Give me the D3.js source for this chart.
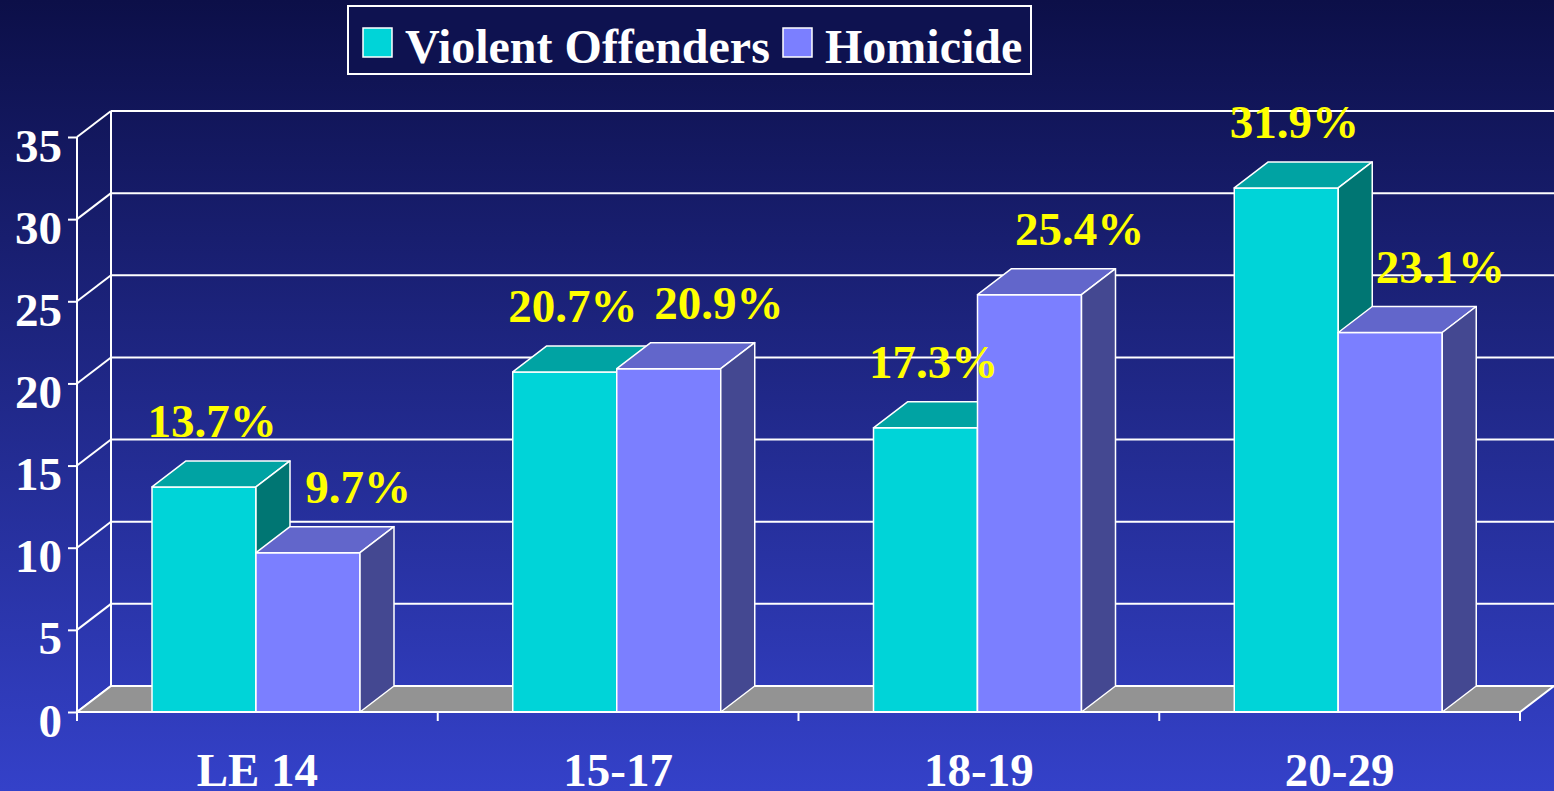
<!DOCTYPE html>
<html>
<head>
<meta charset="utf-8">
<script src="https://cdn.jsdelivr.net/npm/d3@7"></script>
<style>
  html, body { margin: 0; padding: 0; overflow: hidden; }
  svg { display: block; }
</style>
</head>
<body>
<svg class="entry-point"></svg>
<script>
/* data */
const categories = ['LE 14', '15-17', '18-19', '20-29']
const seriesNames = ['Violent Offenders', 'Homicide']
const violent = [13.7, 20.7, 17.3, 31.9]
const homicide = [9.7, 20.9, 25.4, 23.1]
const yTicks = [0, 5, 10, 15, 20, 25, 30, 35]

const W = 1554, H = 791
const DX = 34, DY = -26 // depth of the 3d box
const font = '"Liberation Serif", "Times New Roman", serif'

const colors = [
  { front: '#00d4d8', top: '#00a3a3', side: '#007673' },
  { front: '#7b7fff', top: '#6266cb', side: '#444891' }
]

const svg = d3.select('.entry-point')
  .attr('width', W)
  .attr('height', H)

/* background */
const defs = svg.append('defs')
const grad = defs.append('linearGradient')
  .attr('id', 'bg').attr('x1', 0).attr('y1', 0).attr('x2', 0).attr('y2', 1)
grad.append('stop').attr('offset', '0%').attr('stop-color', '#0c0f48')
grad.append('stop').attr('offset', '100%').attr('stop-color', '#3441c9')
svg.append('rect').attr('width', W).attr('height', H).attr('fill', 'url(#bg)')

/* scales */
const x0 = d3.scaleBand().domain(categories).range([77, 1520])
const x1 = d3.scaleBand().domain(seriesNames).range([75, 283])
const y = d3.scaleLinear().domain([0, 35]).range([712, 137])

const g = svg.append('g')

/* back wall gridlines */
g.selectAll('.grid')
  .data(yTicks).enter().append('line')
  .attr('x1', x0.range()[0] + DX).attr('x2', W)
  .attr('y1', d => y(d) + DY).attr('y2', d => y(d) + DY)
  .attr('stroke', '#fff').attr('stroke-width', 2)

// back wall left edge
g.append('line')
  .attr('x1', x0.range()[0] + DX).attr('x2', x0.range()[0] + DX)
  .attr('y1', y(35) + DY).attr('y2', y(0) + DY)
  .attr('stroke', '#fff').attr('stroke-width', 2)

// side wall diagonals
g.selectAll('.diag')
  .data(yTicks).enter().append('line')
  .attr('x1', x0.range()[0]).attr('x2', x0.range()[0] + DX)
  .attr('y1', d => y(d)).attr('y2', d => y(d) + DY)
  .attr('stroke', '#fff').attr('stroke-width', 2)

/* floor */
const fx0 = x0.range()[0], fx1 = x0.range()[1]
g.append('polygon')
  .attr('points', [[fx0, y(0)], [fx0 + DX, y(0) + DY], [fx1 + DX, y(0) + DY], [fx1, y(0)]].join(' '))
  .attr('fill', '#939393').attr('stroke', '#fff').attr('stroke-width', 2)

/* bars */
const rows = []
categories.forEach((c, i) => {
  rows.push({ cat: c, s: 0, v: violent[i] })
  rows.push({ cat: c, s: 1, v: homicide[i] })
})

const bar = g.selectAll('.bar')
  .data(rows).enter().append('g')

const bx = d => x0(d.cat) + x1(seriesNames[d.s])
const bw = x1.bandwidth()

bar.append('polygon') // front
  .attr('points', d => [[bx(d), y(0)], [bx(d), y(d.v)], [bx(d) + bw, y(d.v)], [bx(d) + bw, y(0)]].join(' '))
  .attr('fill', d => colors[d.s].front)
bar.append('polygon') // top
  .attr('points', d => [[bx(d), y(d.v)], [bx(d) + DX, y(d.v) + DY], [bx(d) + bw + DX, y(d.v) + DY], [bx(d) + bw, y(d.v)]].join(' '))
  .attr('fill', d => colors[d.s].top)
bar.append('polygon') // side
  .attr('points', d => [[bx(d) + bw, y(d.v)], [bx(d) + bw + DX, y(d.v) + DY], [bx(d) + bw + DX, y(0) + DY], [bx(d) + bw, y(0)]].join(' '))
  .attr('fill', d => colors[d.s].side)
bar.selectAll('polygon')
  .attr('stroke', '#fff').attr('stroke-width', 1.5).attr('stroke-linejoin', 'round')

/* axes */
const yAxis = d3.axisLeft(y).tickValues(yTicks).tickSize(9).tickPadding(6)
const ya = g.append('g').attr('transform', `translate(${x0.range()[0]},0)`).call(yAxis)
ya.select('.domain').attr('stroke', '#fff').attr('stroke-width', 2)
  .attr('d', `M0,${y(35)}V${y(0) + 6}`)
ya.selectAll('.tick line').attr('stroke', '#fff').attr('stroke-width', 2)
ya.selectAll('.tick text')
  .attr('fill', '#fff').attr('font-family', font).attr('font-weight', 'bold')
  .attr('font-size', 47).attr('dy', 24)

const xTicks = x0.domain().map(d => x0(d)).concat([x0.range()[1]])
g.append('line')
  .attr('x1', x0.range()[0]).attr('x2', x0.range()[1])
  .attr('y1', y(0)).attr('y2', y(0))
  .attr('stroke', '#fff').attr('stroke-width', 2)
g.selectAll('.xt')
  .data(xTicks).enter().append('line')
  .attr('x1', d => d).attr('x2', d => d)
  .attr('y1', y(0)).attr('y2', y(0) + 9)
  .attr('stroke', '#fff').attr('stroke-width', 2)
g.selectAll('.xl')
  .data(categories).enter().append('text')
  .attr('x', d => x0(d) + x0.bandwidth() / 2)
  .attr('y', 786)
  .attr('text-anchor', 'middle')
  .attr('fill', '#fff').attr('font-family', font).attr('font-weight', 'bold')
  .attr('font-size', 47)
  .text(d => d)

/* value labels */
g.selectAll('.val')
  .data(rows).enter().append('text')
  .attr('x', d => bx(d) + bw / 2 + (d.s === 0 ? 8 : 50))
  .attr('y', d => y(d.v) - 50)
  .attr('text-anchor', 'middle')
  .attr('fill', '#ffff00').attr('font-family', font).attr('font-weight', 'bold')
  .attr('font-size', 47)
  .text(d => d.v.toFixed(1) + '%')

/* legend */
const lg = svg.append('g')
lg.append('rect')
  .attr('x', 348).attr('y', 6).attr('width', 683).attr('height', 68)
  .attr('fill', '#0e1250').attr('stroke', '#fff').attr('stroke-width', 2)
const legendPos = [363, 783]
seriesNames.forEach((s, i) => {
  lg.append('rect')
    .attr('x', legendPos[i]).attr('y', 28).attr('width', 29).attr('height', 29)
    .attr('fill', colors[i].front).attr('stroke', '#fff').attr('stroke-width', 1.5)
  lg.append('text')
    .attr('x', legendPos[i] + 42).attr('y', 63)
    .attr('fill', '#fff').attr('font-family', font).attr('font-weight', 'bold')
    .attr('font-size', 48)
    .text(s)
})
</script>
</body>
</html>
